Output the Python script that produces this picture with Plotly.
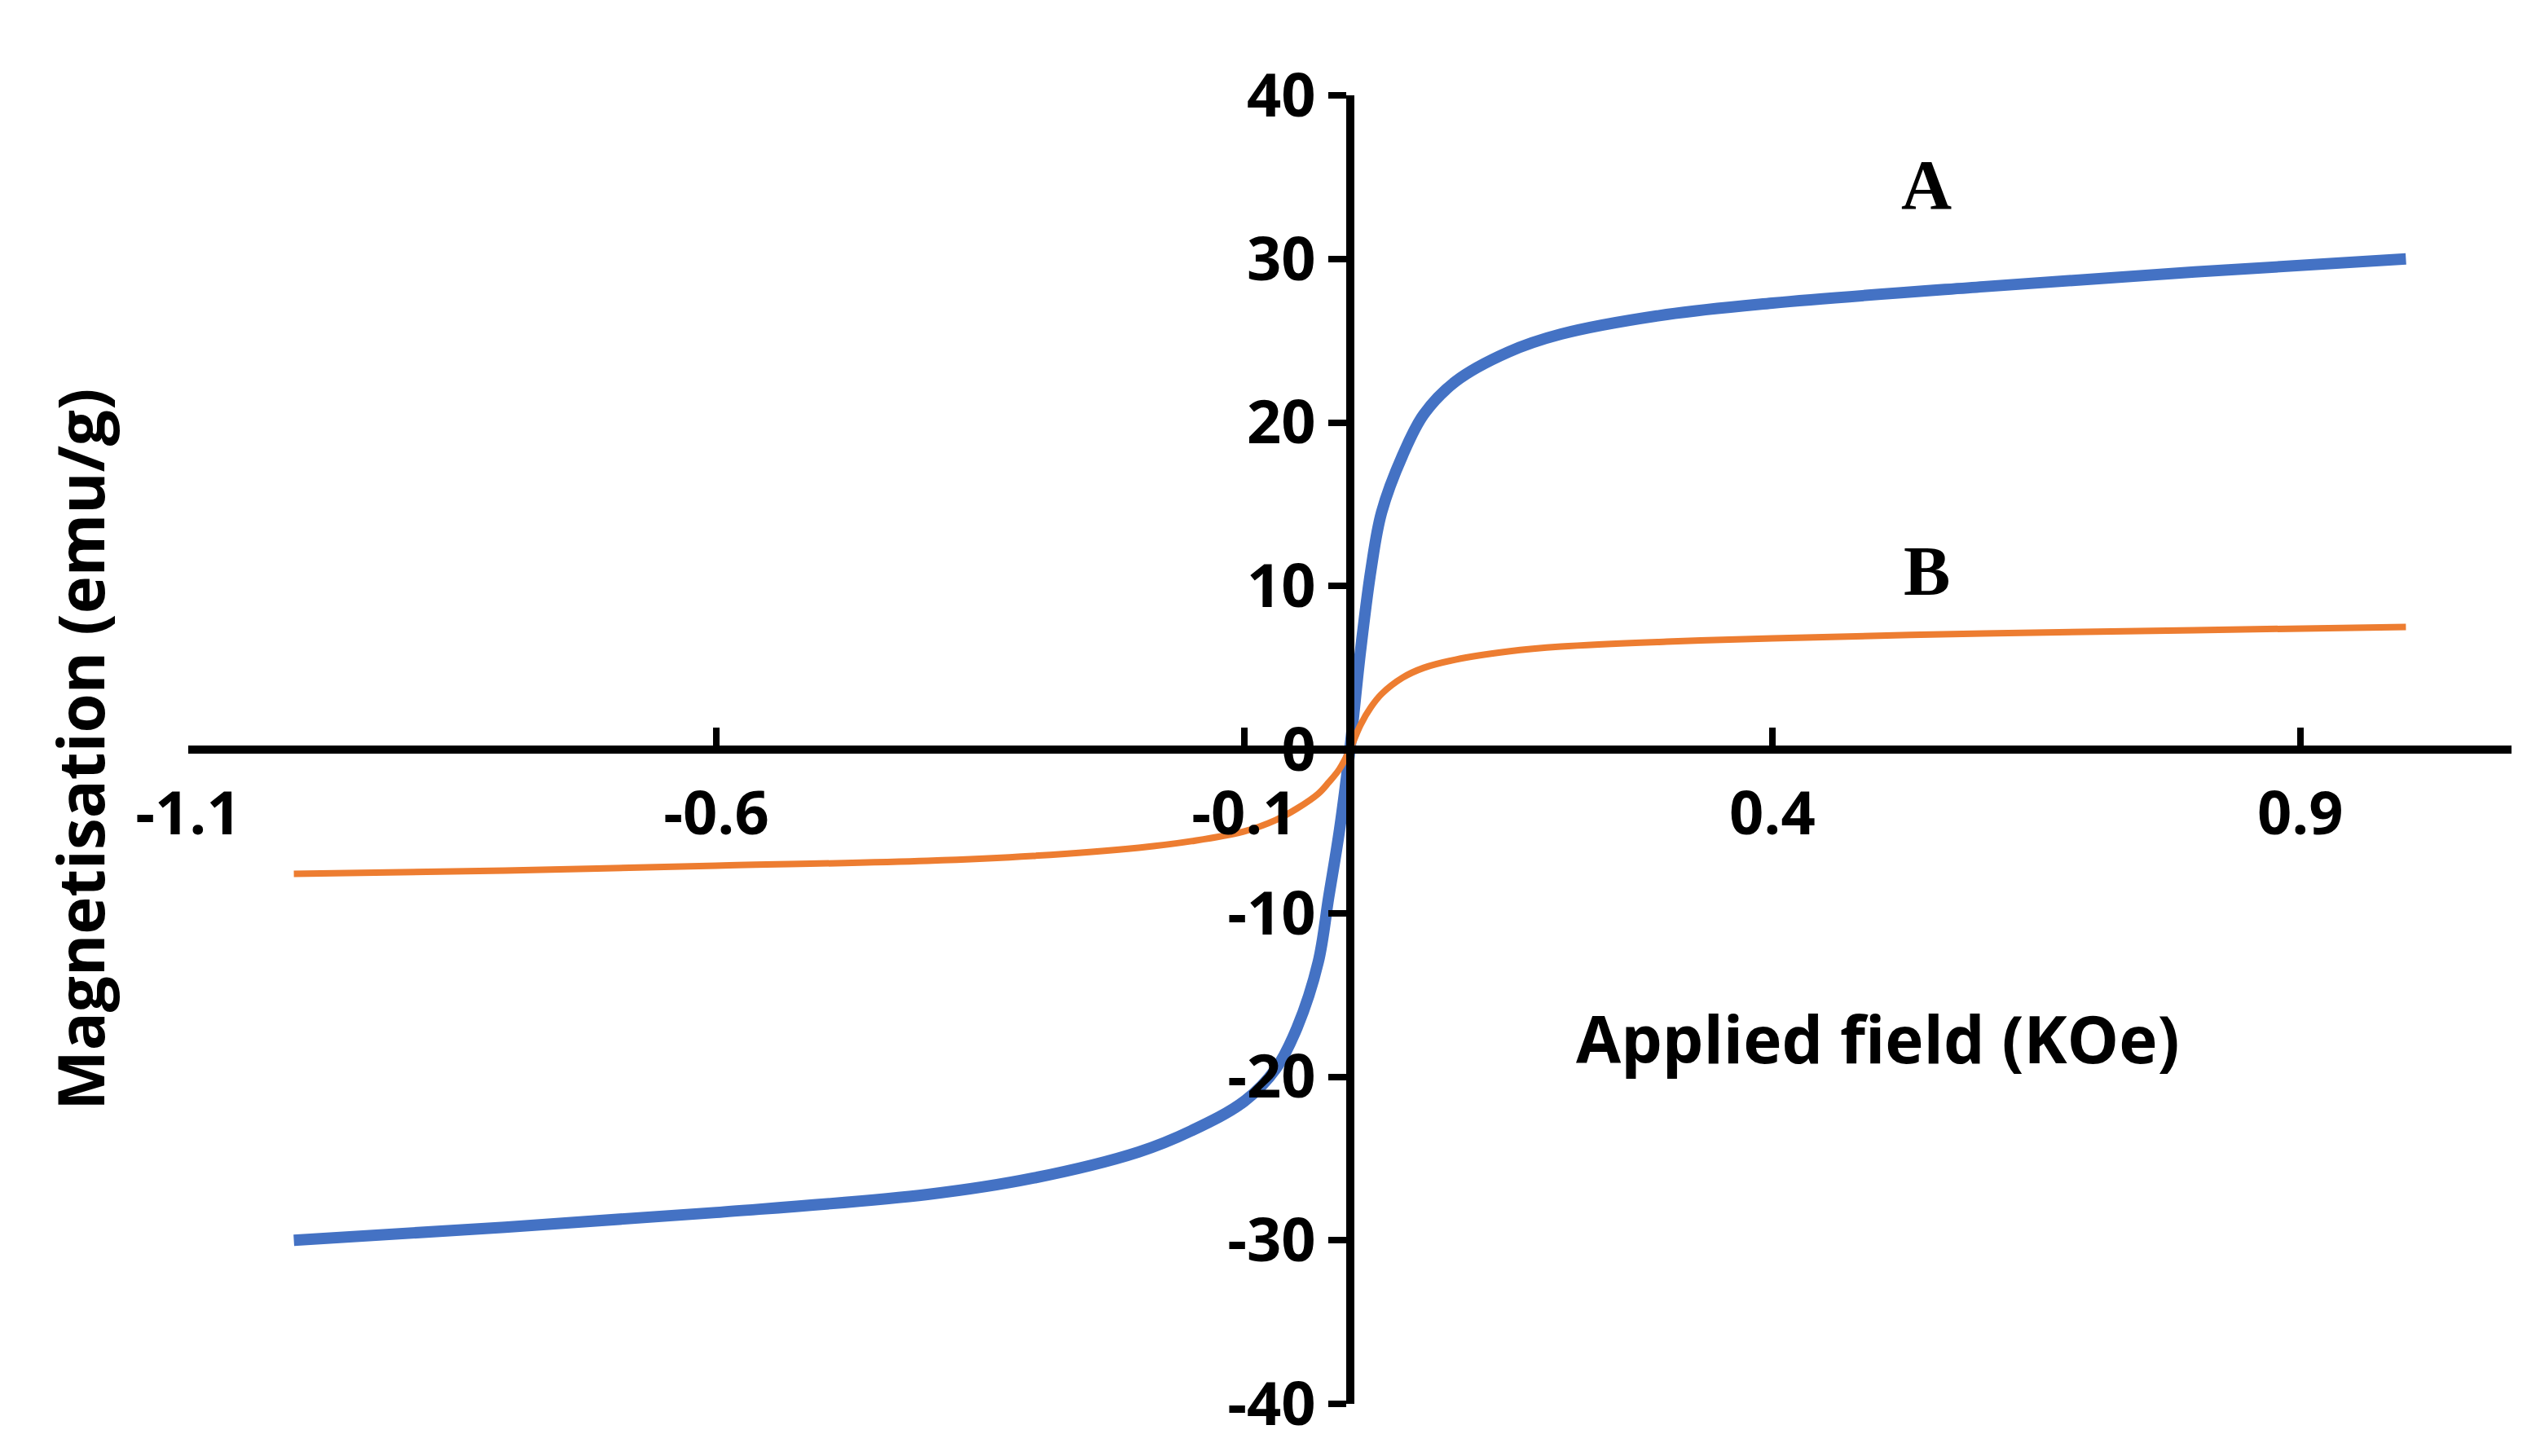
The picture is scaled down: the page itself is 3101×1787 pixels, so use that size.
import plotly.graph_objects as go

field = [-1.0,-0.8,-0.6,-0.4,-0.3,-0.2,-0.15,-0.1,-0.07,-0.05,-0.03,-0.02,-0.01,0,
         0.01,0.02,0.03,0.05,0.07,0.1,0.15,0.2,0.3,0.4,0.6,0.8,1.0]
mag_A = [-30,-29.2,-28.3,-27.2,-26.2,-24.6,-23.3,-21.5,-19.5,-17,-13,-9,-5,0,
         6,11,14.5,18,20.5,22.5,24.3,25.4,26.6,27.3,28.3,29.2,30]
mag_B = [-7.6,-7.4,-7.1,-6.8,-6.5,-6,-5.6,-5,-4.3,-3.6,-2.7,-2,-1.2,0,
         1.5,2.6,3.4,4.4,5.0,5.5,6,6.3,6.6,6.8,7.1,7.3,7.5]
x_ticks = [-1.1,-0.6,-0.1,0.4,0.9]
y_ticks = [-40,-30,-20,-10,0,10,20,30,40]

tickfont = dict(family="Open Sans", size=74, color="black", weight="bold")
fig = go.Figure()
fig.add_trace(go.Scatter(x=field, y=mag_A, mode="lines", line=dict(color="#4472C4", width=14, shape="spline", smoothing=1.0)))
fig.add_trace(go.Scatter(x=field, y=mag_B, mode="lines", line=dict(color="#ED7D31", width=8, shape="spline", smoothing=1.0)))

fig.update_layout(
    width=3101, height=1787, showlegend=False,
    plot_bgcolor="white", paper_bgcolor="white",
    margin=dict(l=223, r=27, t=109, b=72),
    xaxis=dict(range=[-1.1, 1.1], tickvals=x_ticks, ticktext=[str(v) for v in x_ticks],
               anchor="free", position=0.5, showgrid=False, zeroline=False,
               showline=True, linecolor="black", linewidth=10,
               ticks="inside", ticklen=22, tickwidth=8, tickcolor="black",
               tickfont=tickfont, ticklabelstandoff=10),
    yaxis=dict(range=[-40, 40], tickvals=y_ticks, ticktext=[str(v) for v in y_ticks],
               anchor="free", position=0.5,
               showgrid=False, zeroline=False, showline=True, linecolor="black", linewidth=10,
               ticks="outside", ticklen=22, tickwidth=8, tickcolor="black",
               tickfont=tickfont),
)
lab = dict(family="Liberation Serif", size=86, color="black", weight="bold")
fig.add_annotation(x=0.546, y=34.5, text="A", showarrow=False, font=lab)
fig.add_annotation(x=0.546, y=10.9, text="B", showarrow=False, font=lab)
fig.add_annotation(x=0.5, y=-17.6, text="Applied field (KOe)", showarrow=False,
                   font=dict(family="Open Sans", size=80, color="black", weight="bold"))
fig.add_annotation(x=-0.066, xref="paper", y=0.5, yref="paper", text="Magnetisation (emu/g)",
                   textangle=-90, showarrow=False,
                   font=dict(family="Open Sans", size=78, color="black", weight="bold"))
fig.write_html("out.html")
